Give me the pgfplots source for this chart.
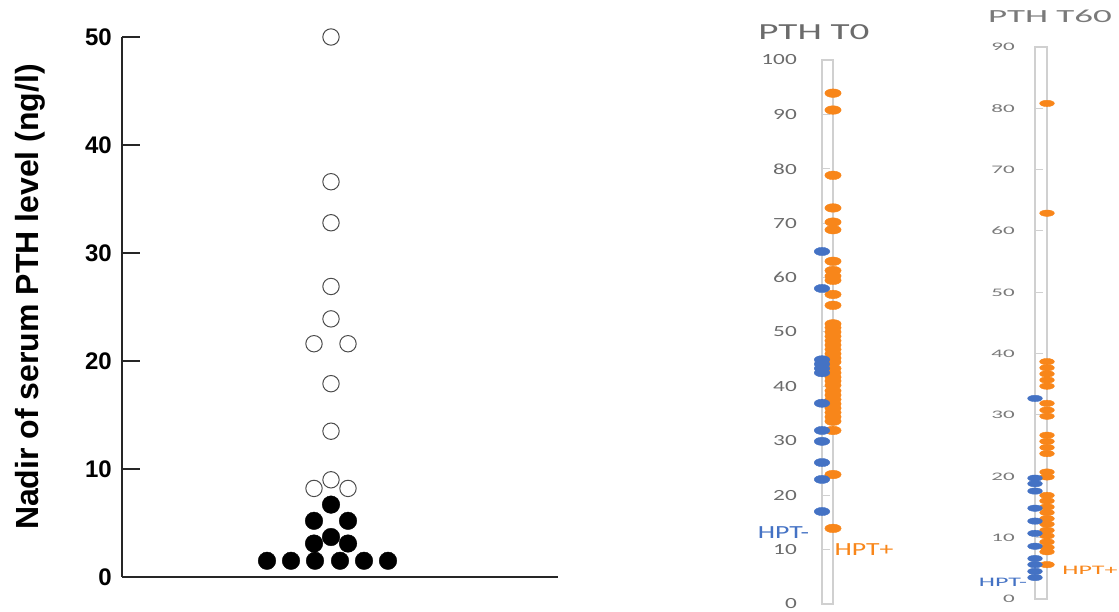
\documentclass[border=0pt]{standalone}
\usepackage{pgfplots}
\pgfplotsset{compat=1.18}
\usepackage{fontspec}
\setmainfont{Liberation Sans}
\newfontfamily\tzfont[FakeStretch=1.5]{Carlito}
\newfontfamily\tztitle[FakeStretch=1.7]{Carlito}
\newfontfamily\tsfont[FakeStretch=2.0]{Carlito}
\definecolor{hporange}{HTML}{F8861A}
\definecolor{hpblue}{HTML}{4472C4}
\definecolor{tgrey}{HTML}{6B6B6B}
\definecolor{sgrey}{HTML}{7A7A7A}
\definecolor{boxgrey}{HTML}{D0D0D0}
\begin{document}
\begin{tikzpicture}[x=1pt,y=1pt]
\path[use as bounding box] (0,0) rectangle (1119,612);
% ---------------- left panel ----------------
\begin{axis}[
  at={(122pt,35pt)}, anchor=south west, scale only axis,
  width=436pt, height=540pt,
  xmin=122, xmax=558, ymin=0, ymax=50,
  clip=false,
  axis x line=bottom, axis y line=left,
  axis line style={-, line width=1.3pt, black!85},
  xtick=\empty, ytick={0,10,20,30,40,50},
  tick align=inside, major tick length=18pt,
  y tick style={line width=1.3pt, black!85},
  yticklabel style={font=\bfseries\fontsize{24}{24}\selectfont, inner sep=0pt, xshift=-10pt},
  /pgf/number format/assume math mode=true,
]
\addplot[black!75, only marks, mark=*, mark size=8.2pt, mark options={draw=black!70, line width=1pt, fill=white}]
 coordinates {(331,50) (331,36.6) (331,32.8) (331,26.9) (331,23.9) (314,21.6) (348,21.6)
 (331,17.9) (331,13.5) (314,8.2) (348,8.2) (331,9.0)};
\addplot[black, only marks, mark=*, mark size=8.8pt, mark options={draw=black, fill=black}]
 coordinates {(331,6.7) (314,5.2) (348,5.2) (331,3.7) (314,3.1) (348,3.1)
 (267,1.5) (291,1.5) (315,1.5) (340,1.5) (364,1.5) (388,1.5)};
\end{axis}
\node[rotate=90, font=\bfseries\fontsize{32}{32}\selectfont, inner sep=0pt] at (30,315) {Nadir of serum PTH level (ng/l)};
% ---------------- PTH T0 ----------------
\begin{axis}[
  at={(822pt,8pt)}, anchor=south west, scale only axis,
  width=11pt, height=544pt,
  xmin=0, xmax=1, ymin=0, ymax=100,
  clip=false,
  axis line style={boxgrey, line width=1.5pt},
  xtick=\empty, ytick={0,10,...,100}, ytick pos=left,
  tick align=inside, major tick length=8pt,
  y tick style={boxgrey, line width=1pt},
  yticklabel style={font=\tzfont\fontsize{15.5}{16}\selectfont, text=tgrey, inner sep=0pt, xshift=-25pt},
  /pgf/number format/assume math mode=true,
]
\addplot[hporange, only marks, mark=*, mark size=4.3pt, mark options={xscale=1.9, draw=none, fill=hporange}]
 coordinates {(1,93.9) (1,90.8) (1,78.8) (1,72.8) (1,70.2) (1,68.8) (1,63.0) (1,61.3) (1,60.3) (1,59.5)
 (1,56.9) (1,54.9) (1,51.5) (1,50.8) (1,50.0) (1,49.2) (1,48.4) (1,47.6) (1,46.8) (1,46.0) (1,45.2) (1,44.5)
 (1,43.3) (1,42.5) (1,41.7) (1,41.0) (1,40.2) (1,39.2) (1,38.4) (1,37.6) (1,36.8) (1,36.0) (1,35.2) (1,34.4) (1,33.6)
 (1,31.9) (1,23.8) (1,13.9)};
\addplot[hpblue, only marks, mark=*, mark size=4.1pt, mark options={xscale=1.9, draw=none, fill=hpblue}]
 coordinates {(0,64.8) (0,58.0) (0,44.9) (0,44.1) (0,43.3) (0,42.5) (0,36.9) (0,31.9) (0,29.9) (0,26.0) (0,22.9) (0,17.0)};
\end{axis}
\node[font=\tztitle\fontsize{23}{23}\selectfont, text=tgrey] at (814,580) {PTH T0};
\node[font=\tzfont\fontsize{18.5}{18.5}\selectfont, text=hpblue] at (783.5,79) {HPT-};
\node[font=\tzfont\fontsize{18.5}{18.5}\selectfont, text=hporange] at (864,62) {HPT+};
% ---------------- PTH T60 ----------------
\begin{axis}[
  at={(1035pt,13pt)}, anchor=south west, scale only axis,
  width=12pt, height=552pt,
  xmin=0, xmax=1, ymin=0, ymax=90,
  clip=false,
  axis line style={boxgrey, line width=1.5pt},
  xtick=\empty, ytick={0,10,...,90}, ytick pos=left,
  tick align=inside, major tick length=8pt,
  y tick style={boxgrey, line width=1pt},
  yticklabel style={font=\tsfont\fontsize{11.5}{12}\selectfont, text=sgrey, inner sep=0pt, xshift=-20pt},
  /pgf/number format/assume math mode=true,
]
\addplot[hporange, only marks, mark=*, mark size=3.2pt, mark options={xscale=2.3, draw=none, fill=hporange}]
 coordinates {(1,80.8) (1,62.9) (1,38.7) (1,37.7) (1,36.7) (1,35.7) (1,34.7) (1,31.9) (1,30.8) (1,29.8)
 (1,26.7) (1,25.7) (1,24.7) (1,23.7) (1,20.7) (1,19.9) (1,16.9) (1,16.0) (1,15.0) (1,14.1) (1,13.1)
 (1,12.2) (1,11.2) (1,10.3) (1,9.3) (1,8.4) (1,7.7) (1,5.6)};
\addplot[hpblue, only marks, mark=*, mark size=3.2pt, mark options={xscale=2.3, draw=none, fill=hpblue}]
 coordinates {(0,32.7) (0,19.7) (0,18.8) (0,17.6) (0,14.8) (0,12.7) (0,10.7) (0,8.6) (0,6.6) (0,5.6) (0,4.5) (0,3.5)};
\end{axis}
\node[font=\tsfont\fontsize{18.5}{18.5}\selectfont, text=sgrey] at (1050,596) {PTH T60};
\node[font=\tsfont\fontsize{13}{13}\selectfont, text=hpblue] at (1003,29.5) {HPT-};
\node[font=\tsfont\fontsize{13}{13}\selectfont, text=hporange] at (1090,42) {HPT+};
\end{tikzpicture}
\end{document}
